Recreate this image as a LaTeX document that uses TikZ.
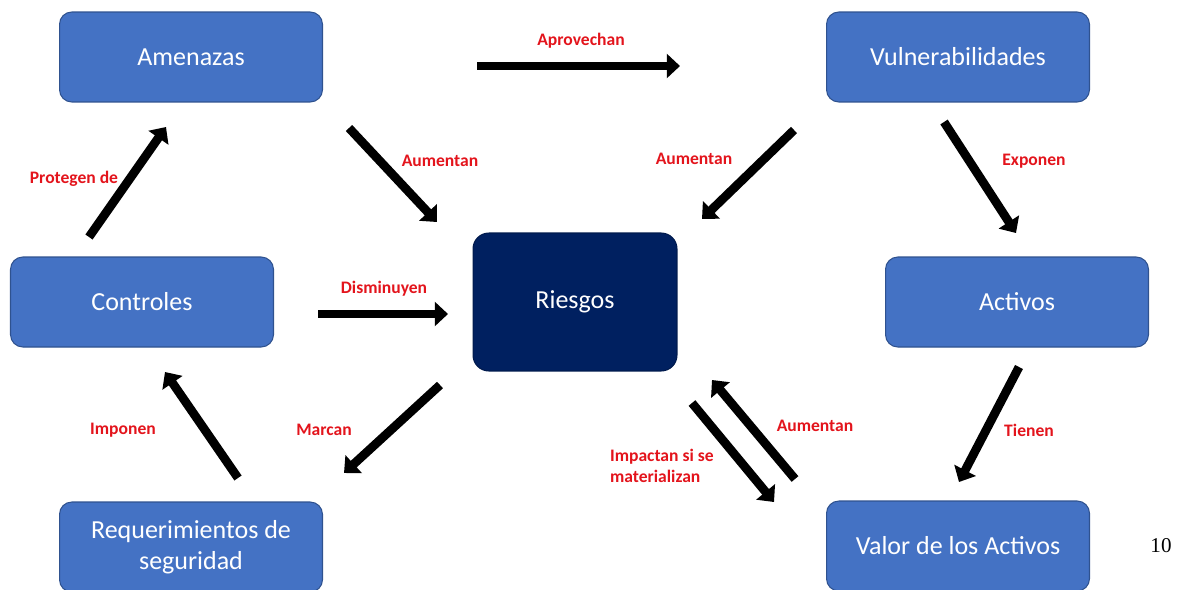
\documentclass[tikz,border=0pt]{standalone}
\usepackage{fontspec}
\setmainfont{Carlito}
\newfontfamily\pagenumfont{Liberation Serif}
\usetikzlibrary{arrows.meta}
\definecolor{riskBox}{HTML}{4472C4}
\definecolor{riskBoxLine}{HTML}{2F528F}
\definecolor{riskCore}{HTML}{002060}
\definecolor{riskLabel}{HTML}{E3141C}
\tikzset{
  riskfig/.style={
    x=0.02cm, y=-0.02cm,
    every node/.append style={inner sep=1pt},
  },
  areabox/.style={
    draw=riskBoxLine, line width=0.6pt, fill=riskBox, rounded corners=7pt,
    text=white, align=center, font=\fontsize{14.8}{17.6}\selectfont,
    minimum width=5.26cm, minimum height=1.8cm,
  },
  corebox/.style={areabox, fill=riskCore, draw=riskCore!80!black,
    rounded corners=9pt, minimum width=4.08cm, minimum height=2.76cm},
  flow/.style={draw=black, line width=5pt,
    -{Triangle[length=7.5pt, width=13.5pt]}},
  flowlabel/.style={text=riskLabel, font=\fontsize{10}{12}\selectfont\bfseries},
}
\begin{document}
\begin{tikzpicture}[riskfig]
  \useasboundingbox (0,0) rectangle (1179,589);
  % cajas
  \node[areabox] (Amenazas) at (191,57) {Amenazas};
  \node[areabox] (Vulnerabilidades) at (958,57) {Vulnerabilidades};
  \node[areabox] (Controles) at (142,302) {Controles};
  \node[corebox] (Riesgos) at (575,302) {Riesgos};
  \node[areabox] (Activos) at (1017,302) {Activos};
  \node[areabox] (Requerimientos) at (191,547) {Requerimientos de\\seguridad};
  \node[areabox] (ValorActivos) at (958,546) {Valor de los Activos};
  \node[font=\pagenumfont\fontsize{12}{14}\selectfont] (PageNum) at (1161,546) {10};
  % extremos de las flechas
  \coordinate (aprovA) at (477,66);   \coordinate (aprovB) at (680,66);
  \coordinate (amenA) at (349,128);   \coordinate (amenB) at (437,222);
  \coordinate (vulnA) at (794,130);   \coordinate (vulnB) at (702,219);
  \coordinate (expoA) at (944,122);   \coordinate (expoB) at (1016,233);
  \coordinate (protA) at (89,237);    \coordinate (protB) at (166,127);
  \coordinate (dismA) at (318,314);   \coordinate (dismB) at (448,314);
  \coordinate (impoA) at (238,478);   \coordinate (impoB) at (165,372);
  \coordinate (marcA) at (440,385);   \coordinate (marcB) at (344,473);
  \coordinate (tienA) at (1019,367);  \coordinate (tienB) at (959,482);
  \coordinate (impaA) at (692,403);   \coordinate (impaB) at (774,502);
  \coordinate (valoA) at (795,479);   \coordinate (valoB) at (712,380);
  \draw[flow] (aprovA) -- (aprovB);
  \draw[flow] (amenA) -- (amenB);
  \draw[flow] (vulnA) -- (vulnB);
  \draw[flow] (expoA) -- (expoB);
  \draw[flow] (protA) -- (protB);
  \draw[flow] (dismA) -- (dismB);
  \draw[flow] (impoA) -- (impoB);
  \draw[flow] (marcA) -- (marcB);
  \draw[flow] (tienA) -- (tienB);
  \draw[flow] (impaA) -- (impaB);
  \draw[flow] (valoA) -- (valoB);
  % etiquetas
  \node[flowlabel] (lAprovechan) at (581,41) {Aprovechan};
  \node[flowlabel] (lAumentanA) at (440,161) {Aumentan};
  \node[flowlabel] (lAumentanV) at (694,159) {Aumentan};
  \node[flowlabel] (lExponen) at (1034,161) {Exponen};
  \node[flowlabel] (lProtegen) at (74,179) {Protegen de};
  \node[flowlabel] (lDisminuyen) at (384,289) {Disminuyen};
  \node[flowlabel] (lImponen) at (123,430) {Imponen};
  \node[flowlabel] (lMarcan) at (324,430) {Marcan};
  \node[flowlabel] (lTienen) at (1029,430) {Tienen};
  \node[flowlabel, align=left, anchor=west] (lImpactan) at (608,466) {Impactan si se\\materializan};
  \node[flowlabel] (lAumentanR) at (815,426) {Aumentan};
\end{tikzpicture}
\end{document}
